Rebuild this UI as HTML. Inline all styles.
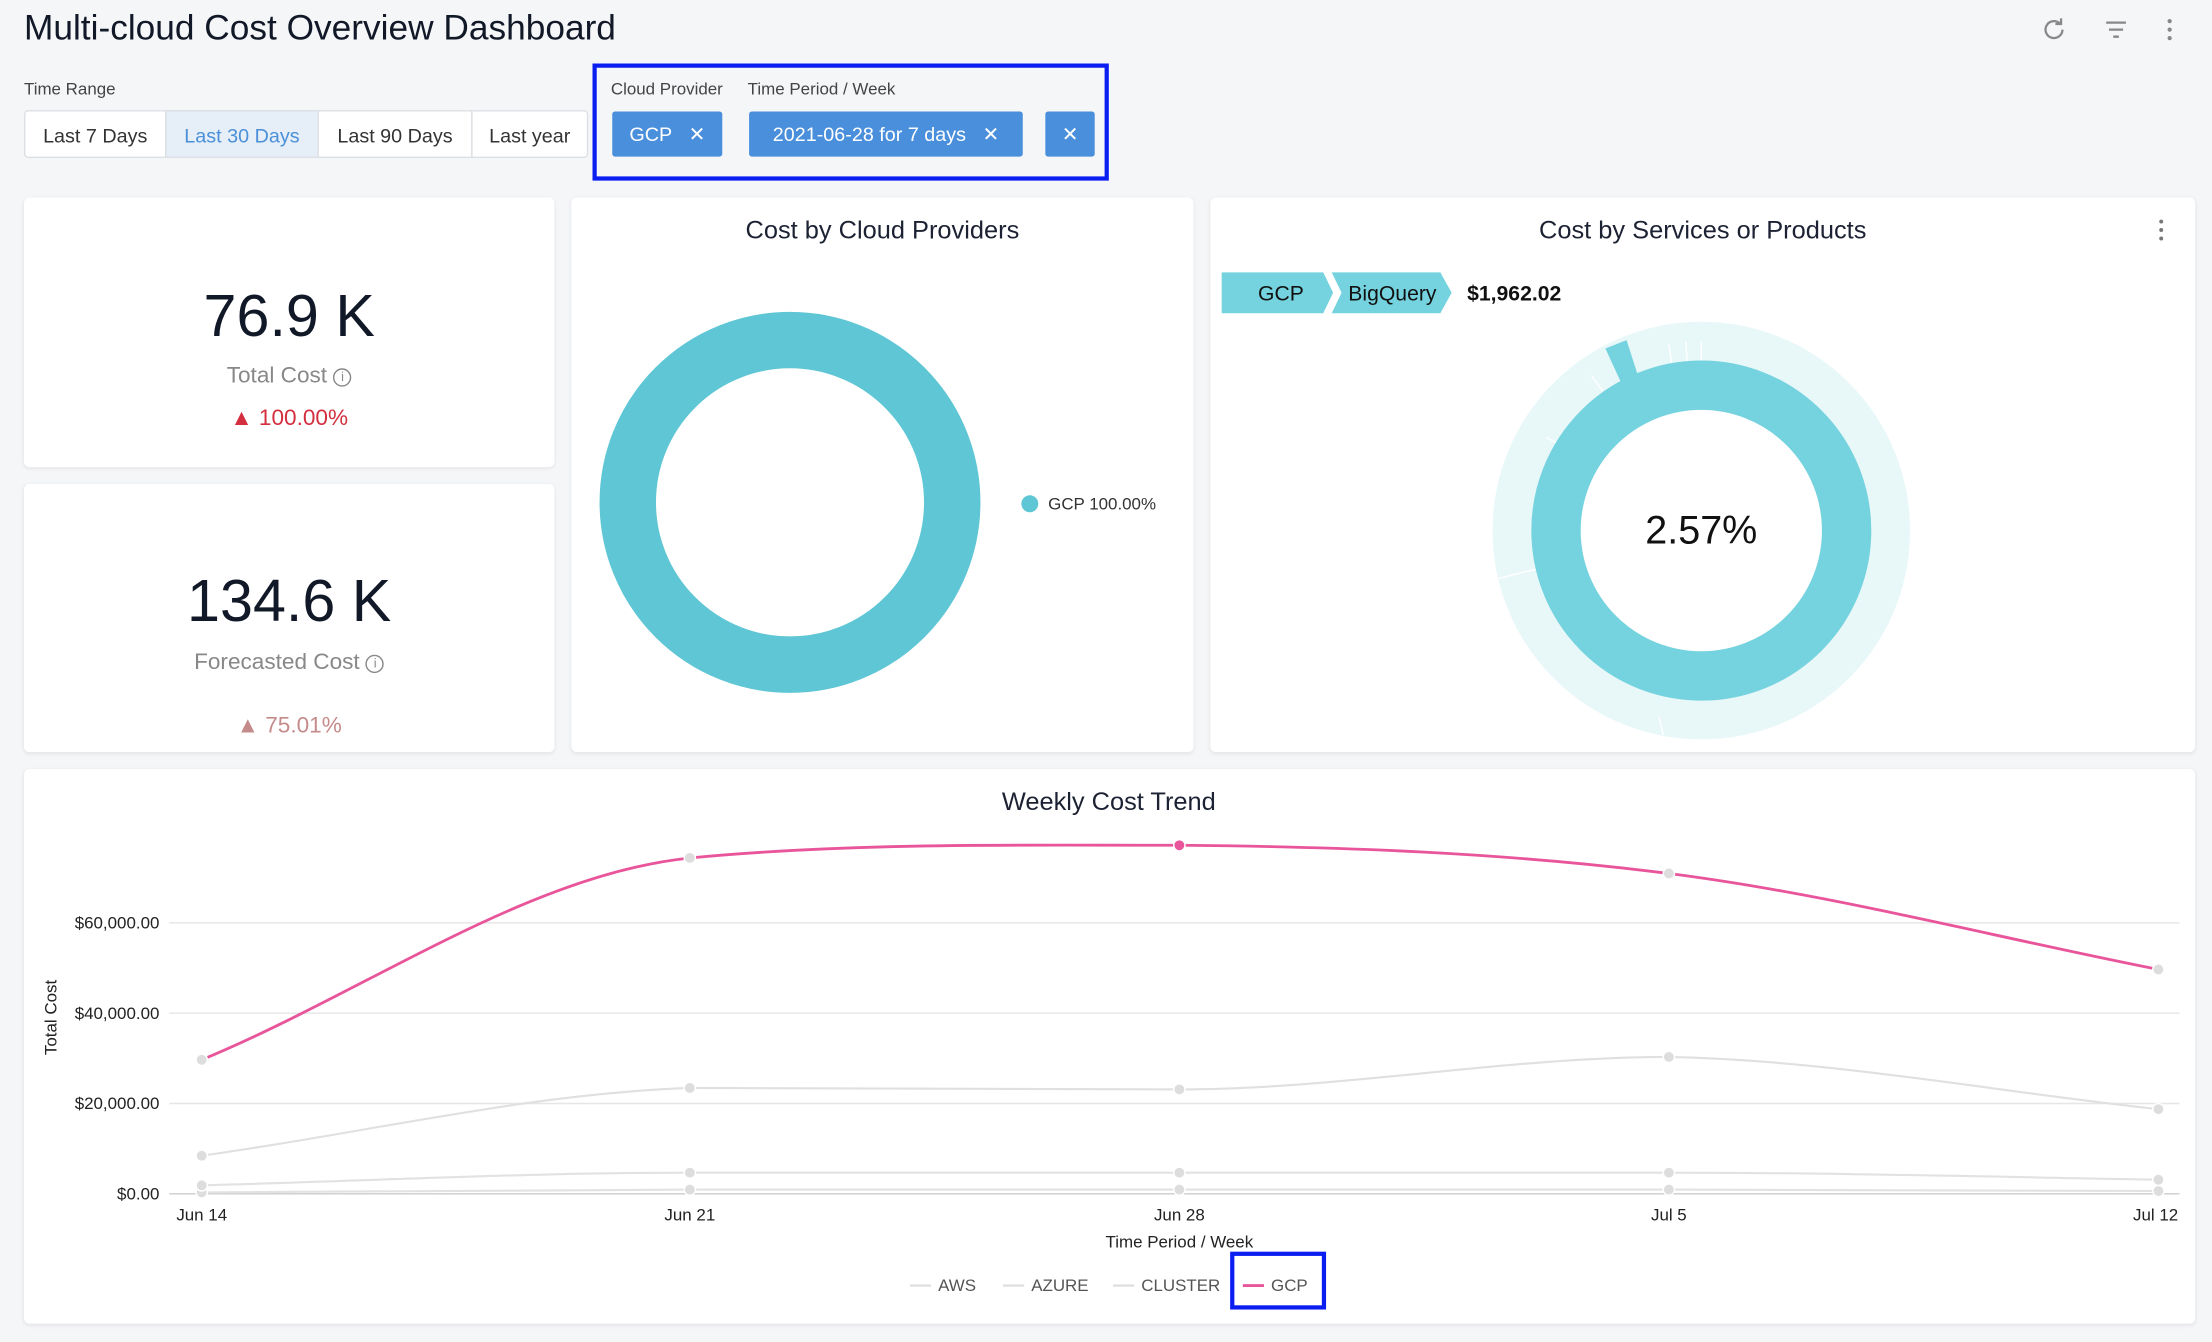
<!DOCTYPE html>
<html><head><meta charset="utf-8"><style>
*{box-sizing:border-box;margin:0;padding:0}
html,body{width:2212px;height:1342px;overflow:hidden;background:#f5f6f8}
#w{position:absolute;left:0;top:0;width:1568px;height:951px;transform:scale(1.41071,1.41114);transform-origin:0 0;font-family:"Liberation Sans",sans-serif;color:#1c2233}
.a{position:absolute}
.card{position:absolute;background:#fff;border-radius:4px;box-shadow:0 1px 3px rgba(0,0,0,.08)}
.lbl{font-size:12px;color:#444}
.btn{position:absolute;top:78px;height:34px;line-height:34px;text-align:center;font-size:14px;color:#333;border:1px solid #dcdfe4;background:#fff}
.chip{position:absolute;top:79px;height:32px;line-height:32px;background:#4a8fdb;color:#fff;font-size:14px;border-radius:2px;text-align:center}
.c{text-align:center}
</style></head><body><div id="w">
<div class="a" style="left:17px;top:6px;font-size:25px;color:#111827">Multi-cloud Cost Overview Dashboard</div>
<svg class="a" style="left:1445px;top:10px" width="110" height="22" viewBox="0 0 110 22">
<path d="M17 11a6 6 0 1 1-2-4.5" fill="none" stroke="#888" stroke-width="1.6"/><path d="M16 3v4h-4" fill="none" stroke="#888" stroke-width="1.6"/>
<path d="M48 6h14M50 11h10M53 16h4" stroke="#888" stroke-width="1.6"/>
<circle cx="93" cy="5" r="1.5" fill="#888"/><circle cx="93" cy="11" r="1.5" fill="#888"/><circle cx="93" cy="17" r="1.5" fill="#888"/></svg>
<div class="a lbl" style="left:17px;top:56px">Time Range</div>
<div class="btn" style="left:17px;width:101px;border-radius:3px 0 0 3px">Last 7 Days</div>
<div class="btn" style="left:117px;width:109px;background:#e6eef7;color:#4a90d9">Last 30 Days</div>
<div class="btn" style="left:225px;width:110px">Last 90 Days</div>
<div class="btn" style="left:334px;width:83px;border-radius:0 3px 3px 0">Last year</div>
<div class="a" style="left:420px;top:45px;width:366px;height:83px;border:3px solid #0a1ef2"></div>
<div class="a lbl" style="left:433px;top:56px">Cloud Provider</div>
<div class="a lbl" style="left:530px;top:56px">Time Period / Week</div>
<div class="chip" style="left:434px;width:78px">GCP&nbsp;&nbsp;&nbsp;✕</div>
<div class="chip" style="left:531px;width:194px">2021-06-28 for 7 days&nbsp;&nbsp;&nbsp;✕</div>
<div class="chip" style="left:741px;width:35px">✕</div>

<div class="card" style="left:17px;top:140px;width:376px;height:191px">
<div class="a c" style="left:0;width:376px;top:60px;font-size:42px;color:#111827">76.9 K</div>
<div class="a c" style="left:0;width:376px;top:118px;font-size:16px;color:#888">Total Cost <span style="display:inline-block;width:13px;height:13px;border:1.3px solid #888;border-radius:50%;font-size:9px;line-height:11px;vertical-align:1px">i</span></div>
<div class="a c" style="left:0;width:376px;top:148px;font-size:16px;color:#d32f3f">▲ 100.00%</div>
</div>
<div class="card" style="left:17px;top:343px;width:376px;height:190px">
<div class="a c" style="left:0;width:376px;top:59px;font-size:42px;color:#111827">134.6 K</div>
<div class="a c" style="left:0;width:376px;top:118px;font-size:16px;color:#888">Forecasted Cost <span style="display:inline-block;width:13px;height:13px;border:1.3px solid #888;border-radius:50%;font-size:9px;line-height:11px;vertical-align:1px">i</span></div>
<div class="a c" style="left:0;width:376px;top:163px;font-size:16px;color:#c58b8b">▲ 75.01%</div>
</div>
<div class="card" style="left:405px;top:140px;width:441px;height:393px">
<div class="a c" style="left:0;width:441px;top:13px;font-size:18px">Cost by Cloud Providers</div>
<svg class="a" style="left:0;top:0" width="441" height="393"><circle cx="155" cy="216" r="115" fill="none" stroke="#5ec6d4" stroke-width="40"/><circle cx="325" cy="217" r="6" fill="#5ec6d4"/><text x="338" y="221" font-size="12" fill="#333" font-family="Liberation Sans">GCP 100.00%</text></svg>
</div>
<div class="card" style="left:858px;top:140px;width:698px;height:393px">
<div class="a c" style="left:0;width:698px;top:13px;font-size:18px">Cost by Services or Products</div>
<svg class="a" style="left:0;top:0" width="698" height="393">
<circle cx="674" cy="17" r="1.4" fill="#777"/><circle cx="674" cy="23" r="1.4" fill="#777"/><circle cx="674" cy="29" r="1.4" fill="#777"/>
<polygon points="8,53 80,53 87,67.5 80,82 8,82" fill="#74d3de"/>
<polygon points="86,53 163,53 171,67.5 163,82 86,82 93,67.5" fill="#74d3de"/>
<text x="50" y="73" font-size="15" text-anchor="middle" font-family="Liberation Sans" fill="#111">GCP</text>
<text x="129" y="73" font-size="15" text-anchor="middle" font-family="Liberation Sans" fill="#111">BigQuery</text>
<text x="182" y="73" font-size="15" font-weight="bold" font-family="Liberation Sans" fill="#111">$1,962.02</text>
<circle cx="348" cy="236" r="134" fill="none" stroke="#e8f7f8" stroke-width="28"/>
<g stroke="#fff" stroke-width="1"><line x1="348" y1="102" x2="348" y2="116"/><line x1="337" y1="102" x2="338" y2="116"/><line x1="325" y1="104" x2="327" y2="118"/><line x1="270" y1="126" x2="278" y2="137"/><line x1="238" y1="170" x2="250" y2="176"/><line x1="204" y1="270" x2="232" y2="263"/><line x1="318" y1="368" x2="321" y2="381"/></g>
<path d="M280 107 L295 101 L304 129 L292 133Z" fill="#74d3de"/>
<circle cx="348" cy="236" r="103" fill="none" stroke="#74d3de" stroke-width="35"/>
<text x="348" y="245" font-size="28" text-anchor="middle" font-family="Liberation Sans" fill="#111">2.57%</text>
</svg>
</div>
<div class="card" style="left:17px;top:545px;width:1539px;height:393px"></div>
<svg class="a" style="left:0;top:0" width="1568" height="951" font-family="Liberation Sans">
<text x="786" y="574" font-size="18" text-anchor="middle" fill="#1c2233">Weekly Cost Trend</text>
<g stroke="#e6e6e6" stroke-width="1"><line x1="120" y1="654" x2="1545" y2="654"/><line x1="120" y1="718" x2="1545" y2="718"/><line x1="120" y1="782" x2="1545" y2="782"/><line x1="120" y1="846" x2="1545" y2="846" stroke="#ccc"/></g>
<g font-size="12" fill="#222" text-anchor="end"><text x="113" y="658">$60,000.00</text><text x="113" y="722">$40,000.00</text><text x="113" y="786">$20,000.00</text><text x="113" y="850">$0.00</text></g>
<text transform="translate(40,721) rotate(-90)" font-size="12" text-anchor="middle" fill="#222">Total Cost</text>
<g font-size="12" fill="#222" text-anchor="middle"><text x="143" y="865">Jun 14</text><text x="489" y="865">Jun 21</text><text x="836" y="865">Jun 28</text><text x="1183" y="865">Jul 5</text><text x="1528" y="865">Jul 12</text></g>
<text x="836" y="884" font-size="12" text-anchor="middle" fill="#222">Time Period / Week</text>
<g fill="none" stroke-width="1.5">
<path d="M143,845 C258,844 373,843 489,843 S720,843 836,843 S1067,843 1183,843 S1414,844 1530,844" stroke="#e2e2e2"/>
<path d="M143,840 C258,837 373,831 489,831 S720,831 836,831 S1067,831 1183,831 S1414,834 1530,836" stroke="#e2e2e2"/>
<path d="M143,819 C258.7,803 373.3,775 489,771 C604.7,771 720.3,772 836,772 C951.7,772 1067.3,749 1183,749 C1298.7,751.3 1414.3,773.7 1530,786" stroke="#e0e0e0"/>
<path d="M143,751 C258.7,703.3 373.3,620 489,608 C604.7,597 720.3,599 836,599 C951.7,600 1067.3,604.3 1183,619 C1298.7,633.7 1414.3,664.3 1530,687" stroke="#e9559b" stroke-width="2"/>
</g>
<g fill="#ddd" stroke="#fff" stroke-width="1">
<circle cx="143" cy="845" r="4"/><circle cx="489" cy="843" r="4"/><circle cx="836" cy="843" r="4"/><circle cx="1183" cy="843" r="4"/><circle cx="1530" cy="844" r="4"/>
<circle cx="143" cy="840" r="4"/><circle cx="489" cy="831" r="4"/><circle cx="836" cy="831" r="4"/><circle cx="1183" cy="831" r="4"/><circle cx="1530" cy="836" r="4"/>
<circle cx="143" cy="819" r="4"/><circle cx="489" cy="771" r="4"/><circle cx="836" cy="772" r="4"/><circle cx="1183" cy="749" r="4"/><circle cx="1530" cy="786" r="4"/>
<circle cx="143" cy="751" r="4"/><circle cx="489" cy="608" r="4"/><circle cx="1183" cy="619" r="4"/><circle cx="1530" cy="687" r="4"/>
<circle cx="836" cy="599" r="4" fill="#e9559b"/></g>
<g font-size="12" fill="#555"><line x1="645" y1="911" x2="660" y2="911" stroke="#ddd" stroke-width="1.5"/><text x="665" y="915">AWS</text>
<line x1="711" y1="911" x2="726" y2="911" stroke="#ddd" stroke-width="1.5"/><text x="731" y="915">AZURE</text>
<line x1="789" y1="911" x2="804" y2="911" stroke="#ddd" stroke-width="1.5"/><text x="809" y="915">CLUSTER</text>
<line x1="881" y1="911" x2="896" y2="911" stroke="#e9559b" stroke-width="2"/><text x="901" y="915">GCP</text></g>
<rect x="873.5" y="888.5" width="65" height="38" fill="none" stroke="#0a1ef2" stroke-width="3"/>
</svg>
</div></body></html>
